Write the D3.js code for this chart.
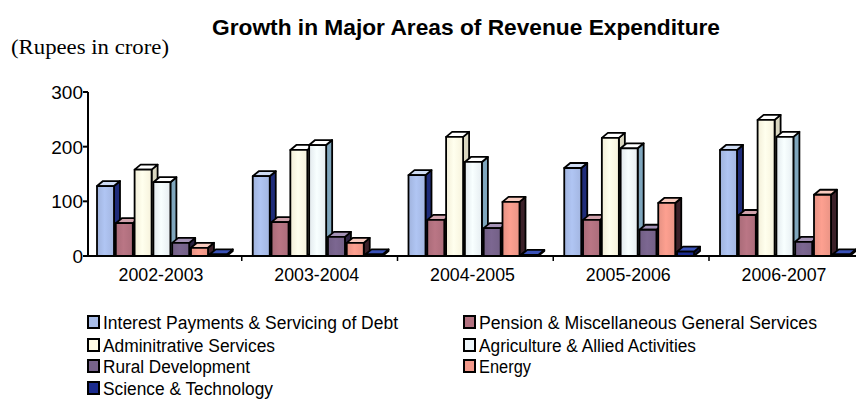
<!DOCTYPE html>
<html>
<head>
<meta charset="utf-8">
<script src="https://cdn.jsdelivr.net/npm/d3@7"></script>
<style>
  body { margin: 0; background: #fff; }
  svg { display: block; }
</style>
</head>
<body>
<div id="chart"></div>
<script>
const years = ["2002-2003", "2003-2004", "2004-2005", "2005-2006", "2006-2007"];
const seriesNames = [
  "Interest Payments & Servicing of Debt",
  "Pension & Miscellaneous General Services",
  "Adminitrative Services",
  "Agriculture & Allied Activities",
  "Rural Development",
  "Energy",
  "Science & Technology"
];
const interest = [128, 146, 148, 161, 194];
const pension = [60, 62, 66, 66, 75];
const admin = [158, 194, 218, 216, 249];
const agriculture = [135, 203, 172, 197, 218];
const rural = [24, 35, 51, 48, 26];
const energy = [15, 24, 99, 97, 112];
const science = [3, 3, 2, 8, 3];
const yTicks = [0, 100, 200, 300];

const allSeries = [interest, pension, admin, agriculture, rural, energy, science];

// front / top / side colours per series
const colors = [
  { front: "#a9bde9", top: "#cfdcf4", side: "#1f2c7a" },
  { front: "#b2717f", top: "#d1a3ad", side: "#3b2232" },
  { front: "#fffbe4", top: "#ffffff", side: "#d9d6bf" },
  { front: "#eef6fa", top: "#ffffff", side: "#7fa6bd" },
  { front: "#77638b", top: "#a593b6", side: "#2b2140" },
  { front: "#f2998a", top: "#f9cbbf", side: "#3c2129" },
  { front: "#1b2b8e", top: "#3a52b8", side: "#0b1242" }
];
// legend text widths as measured on the picture
const legendWidths = [295, 338, 172, 217, 147, 52, 170];

const width = 856, height = 401;
const svg = d3.select("#chart").append("svg")
  .attr("width", width)
  .attr("height", height);

const defs = svg.append("defs");
colors.forEach((c, i) => {
  const g = defs.append("linearGradient").attr("id", "grad" + i)
    .attr("x1", "0%").attr("x2", "100%").attr("y1", "0%").attr("y2", "0%");
  g.append("stop").attr("offset", "0%").attr("stop-color", d3.color(c.front).darker(0.15));
  g.append("stop").attr("offset", "45%").attr("stop-color", d3.color(c.front).brighter(0.12));
  g.append("stop").attr("offset", "100%").attr("stop-color", d3.color(c.front).darker(0.1));
});

const x0 = 88, yBase = 256, yTop = 92;
const sans = "'Liberation Sans', Arial, sans-serif";

const x = d3.scaleBand()
  .domain(years)
  .range([x0, x0 + 155.75 * years.length]);

const y = d3.scaleLinear()
  .domain([0, 300])
  .range([yBase, yTop]);

const slot = d3.scaleBand()
  .domain(d3.range(seriesNames.length))
  .range([9, 9 + 18.8 * seriesNames.length]);

const barW = 17, dx = 6, dy = 5;

// title
svg.append("text")
  .attr("x", 212).attr("y", 35)
  .attr("font-family", sans)
  .attr("font-weight", "bold")
  .attr("font-size", 22)
  .attr("textLength", 508)
  .attr("lengthAdjust", "spacingAndGlyphs")
  .text("Growth in Major Areas of Revenue Expenditure");

svg.append("text")
  .attr("x", 11).attr("y", 54)
  .attr("font-family", "'Liberation Serif', 'Times New Roman', serif")
  .attr("font-size", 22)
  .attr("textLength", 158)
  .attr("lengthAdjust", "spacingAndGlyphs")
  .text("(Rupees in crore)");

// y axis
const yAxis = svg.append("g");
yAxis.append("line")
  .attr("x1", x0).attr("x2", x0)
  .attr("y1", yTop).attr("y2", yBase)
  .attr("stroke", "#000").attr("stroke-width", 2);
yAxis.selectAll("line.tick").data(yTicks).enter().append("line")
  .attr("class", "tick")
  .attr("x1", x0 - 5).attr("x2", x0)
  .attr("y1", d => y(d)).attr("y2", d => y(d))
  .attr("stroke", "#000").attr("stroke-width", 2);
yAxis.selectAll("text").data(yTicks).enter().append("text")
  .attr("x", x0 - 5).attr("y", d => y(d) + 7)
  .attr("text-anchor", "end")
  .attr("font-family", sans)
  .attr("font-size", 19)
  .text(d => d);

// bars
const bars = svg.append("g");
years.forEach((yr, gi) => {
  allSeries.forEach((s, si) => {
    const v = s[gi];
    const bx = x(yr) + slot(si);
    const by = y(v);
    const c = colors[si];
    const g = bars.append("g")
      .attr("stroke", "#000").attr("stroke-width", 1.8).attr("stroke-linejoin", "round");
    g.append("path")
      .attr("d", `M${bx + barW},${by} L${bx + barW + dx},${by - dy} L${bx + barW + dx},${yBase - dy} L${bx + barW},${yBase} Z`)
      .attr("fill", c.side);
    g.append("path")
      .attr("d", `M${bx},${by} L${bx + dx},${by - dy} L${bx + barW + dx},${by - dy} L${bx + barW},${by} Z`)
      .attr("fill", c.top);
    g.append("rect")
      .attr("x", bx).attr("y", by)
      .attr("width", barW).attr("height", yBase - by)
      .attr("fill", `url(#grad${si})`);
  });
});

// x axis
const xAxis = svg.append("g");
xAxis.append("line")
  .attr("x1", x0).attr("x2", width)
  .attr("y1", yBase).attr("y2", yBase)
  .attr("stroke", "#000").attr("stroke-width", 2);
xAxis.selectAll("line.tick").data(years.slice(1)).enter().append("line")
  .attr("class", "tick")
  .attr("x1", d => x(d) - 2).attr("x2", d => x(d) - 2)
  .attr("y1", yBase).attr("y2", yBase + 5)
  .attr("stroke", "#000").attr("stroke-width", 1.5);
xAxis.selectAll("text").data(years).enter().append("text")
  .attr("x", d => x(d) + 9 + 64)
  .attr("y", 281)
  .attr("text-anchor", "middle")
  .attr("font-family", sans)
  .attr("font-size", 19)
  .attr("textLength", 85)
  .attr("lengthAdjust", "spacingAndGlyphs")
  .text(d => d);

// legend
const legendPos = [
  [88, 329], [464, 329],
  [88, 352], [464, 352],
  [88, 373], [464, 373],
  [88, 395]
];
const legend = svg.append("g")
  .attr("font-family", sans)
  .attr("font-size", 18);
seriesNames.forEach((name, i) => {
  const [lx, ly] = legendPos[i];
  legend.append("rect")
    .attr("x", lx).attr("y", ly - 13)
    .attr("width", 11).attr("height", 12)
    .attr("fill", colors[i].front)
    .attr("stroke", "#000").attr("stroke-width", 2);
  legend.append("text")
    .attr("x", lx + 15).attr("y", ly)
    .attr("textLength", legendWidths[i])
    .attr("lengthAdjust", "spacingAndGlyphs")
    .text(name);
});
</script>
</body>
</html>
